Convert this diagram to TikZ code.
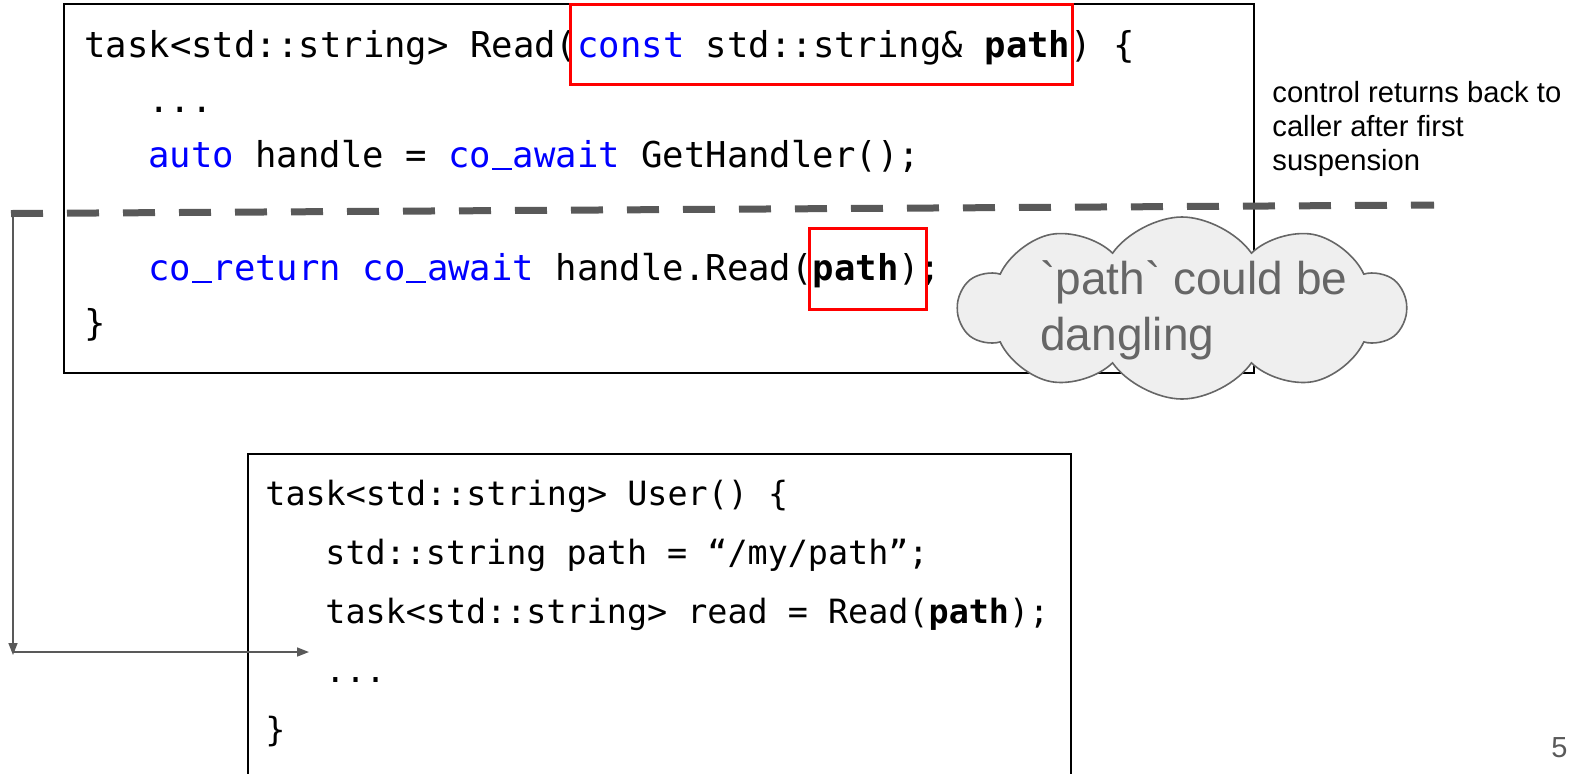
\documentclass[tikz,border=0pt]{standalone}
\usepackage{fontspec}
\setmainfont{Liberation Sans}
\newfontfamily\codefont{DejaVu Sans Mono}
\usetikzlibrary{shapes.symbols,arrows.meta}
\definecolor{kwblue}{HTML}{0000FF}
\definecolor{darkgray}{HTML}{595959}
\definecolor{cloudfill}{HTML}{EFEFEF}
\definecolor{cloudline}{HTML}{666666}
\newcommand{\kw}[1]{\textcolor{kwblue}{#1}}
\newcommand{\bpath}{\textbf{path}}
\newcommand{\us}{\makebox[0.602em][c]{\rule[-0.09em]{0.56em}{0.07em}}}
\newcommand{\bq}{\XeTeXglyph\XeTeXcharglyph"60\relax}
\tikzset{
  codebox/.style  = {draw, line width=1pt},
  codeline/.style = {anchor=base west, inner sep=0, font=\codefont\fontsize{17.8pt}{20pt}\selectfont},
  userline/.style = {codeline, font=\codefont\fontsize{16.7pt}{20pt}\selectfont},
  redbox/.style   = {draw=red, line width=1.5pt},
  sepline/.style  = {darkgray, line width=3.5pt, dash pattern=on 16pt off 12pt},
  flow/.style     = {darkgray, line width=0.8pt, -{Triangle[length=6pt,width=4.5pt]}},
  note/.style     = {anchor=base west, inner sep=0, align=left, font=\fontsize{14.6pt}{17pt}\selectfont},
  bubble/.style   = {cloud, cloud puffs=10, cloud puff arc=110, aspect=2.4, draw=cloudline, line width=0.8pt, fill=cloudfill, minimum width=223pt, minimum height=91pt, inner sep=0},
  bubbletxt/.style= {anchor=base west, inner sep=0, align=left, text=cloudline, font=\fontsize{23pt}{28pt}\selectfont}
}

\begin{document}
\begin{tikzpicture}[x=0.5pt, y=-0.5pt]
  \useasboundingbox (0,0) rectangle (1575,773);
  \clip (0,0) rectangle (1575,773);

  % coroutine Read
  \draw[codebox] (64,4) rectangle (1254,373);
  \node[codeline] (r1) at (84,57)   {task<std::string> Read(\kw{const} std::string\& \bpath) \{};
  \node[codeline] (r2) at (148,112) {...};
  \node[codeline] (r3) at (148,167) {\kw{auto} handle = \kw{co\us await} GetHandler();};
  \node[codeline] (r4) at (148,280) {\kw{co\us return} \kw{co\us await} handle.Read(\bpath);};
  \node[codeline] (r5) at (84,335)  {\}};
  \draw[redbox] (570,4) rectangle (1072,84);
  \draw[redbox] (809,228) rectangle (926,309);

  % caller User
  \draw[codebox] (248,790) -- (248,454) -- (1071,454) -- (1071,790);
  \node[userline] (u1) at (265,505) {task<std::string> User() \{};
  \node[userline] (u2) at (325,564) {std::string path = “/my/path”;};
  \node[userline] (u3) at (325,623) {task<std::string> read = Read(\bpath);};
  \node[userline] (u4) at (325,682) {...};
  \node[userline] (u5) at (265,741) {\}};

  % first suspension
  \coordinate (sepL) at (11,213.5);
  \coordinate (sepR) at (1434,205);
  \draw[sepline] (sepL) -- (sepR);
  \node[note] (ctl) at (1272,170) {control returns back to\\caller after first\\suspension};

  \coordinate (susp)   at (13,214);
  \coordinate (turn)   at (13,655);
  \coordinate (resume) at (309,652);
  \draw[flow] (susp) -- (turn);
  \draw[flow] (13,652) -- (resume);

  % warning
  \node[bubble] (dang) at (1182,308) {};
  \node[bubbletxt] (dangtxt) at (1040,350) {\bq path\bq{} could be\\dangling};

  \node[anchor=base east, inner sep=0, text=darkgray, font=\fontsize{14.5pt}{17pt}\selectfont] (pg) at (1568,757) {5};
\end{tikzpicture}
\end{document}
